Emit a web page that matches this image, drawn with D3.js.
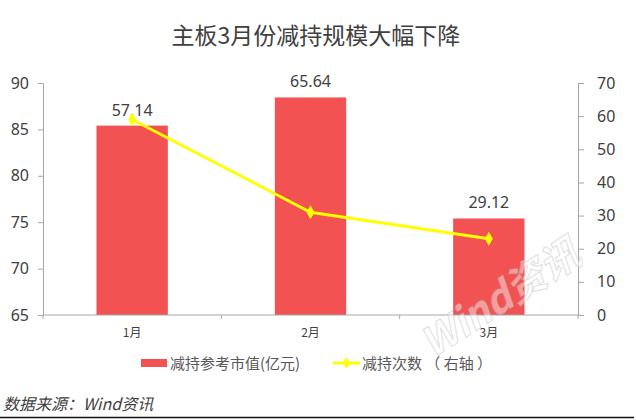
<!DOCTYPE html>
<html>
<head>
<meta charset="utf-8">
<script src="https://cdn.jsdelivr.net/npm/d3@7"></script>
<style>
  body { margin: 0; background: #fff; }
  text { font-family: "Noto Sans CJK SC", "Noto Sans", sans-serif; }
</style>
</head>
<body>
<script>
// Data
const months = ["1月", "2月", "3月"];
const marketValue = [57.14, 65.64, 29.12];   // 减持参考市值(亿元)
const reduceCount = [59, 31, 23];             // 减持次数（右轴）
const leftTicks = [65, 70, 75, 80, 85, 90];
const rightTicks = [0, 10, 20, 30, 40, 50, 60, 70];

const width = 636, height = 420;
const plotLeft = 43, plotRight = 578, plotTop = 83, plotBottom = 315;

const svg = d3.select("body").append("svg")
    .attr("width", width)
    .attr("height", height);

// Scales
const x = d3.scaleBand().domain(months).range([plotLeft, plotRight]).padding(0);
const yLeft = d3.scaleLinear().domain([65, 90]).range([plotBottom, plotTop]);
const yRight = d3.scaleLinear().domain([0, 70]).range([plotBottom, plotTop]);
const barW = x.bandwidth() * 0.4;
const cx = m => x(m) + x.bandwidth() / 2;

// Title
svg.append("text")
    .attr("x", 316).attr("y", 44)
    .attr("text-anchor", "middle")
    .attr("font-size", 23)
    .attr("fill", "#404040")
    .text("主板3月份减持规模大幅下降");

// Axes
const axisColor = "#a6a6a6";
const styleAxis = g => {
  g.select(".domain").attr("stroke", axisColor);
  g.selectAll(".tick line").attr("stroke", axisColor);
  g.selectAll(".tick text").attr("fill", "#404040")
      .style("font-family", "'Noto Sans', 'DejaVu Sans', sans-serif");
};

svg.append("g")
    .attr("transform", `translate(${plotLeft},0)`)
    .call(d3.axisLeft(yLeft).tickValues(leftTicks).tickSize(5).tickPadding(9).tickSizeOuter(0))
    .attr("font-size", 16)
    .call(styleAxis);

svg.append("g")
    .attr("transform", `translate(${plotRight},0)`)
    .call(d3.axisRight(yRight).tickValues(rightTicks).tickSize(6).tickPadding(13).tickSizeOuter(0))
    .attr("font-size", 16)
    .call(styleAxis);

// Bars
svg.selectAll("rect.bar")
    .data(marketValue)
    .enter().append("rect")
    .attr("class", "bar")
    .attr("x", (d, i) => cx(months[i]) - barW / 2)
    .attr("y", d => yRight(d))
    .attr("width", barW)
    .attr("height", d => plotBottom - yRight(d))
    .attr("fill", "#f25252");

// Bottom axis with ticks between categories
const xb = svg.append("g").attr("transform", `translate(0,${plotBottom})`);
xb.append("line").attr("x1", plotLeft).attr("x2", plotRight).attr("stroke", axisColor);
xb.selectAll("line.tk")
    .data(months.map(m => x(m)).concat([plotRight]))
    .enter().append("line")
    .attr("class", "tk")
    .attr("x1", d => d).attr("x2", d => d)
    .attr("y1", 0).attr("y2", 4)
    .attr("stroke", axisColor);
xb.selectAll("text")
    .data(months)
    .enter().append("text")
    .attr("x", d => cx(d))
    .attr("y", 22)
    .attr("text-anchor", "middle")
    .attr("font-size", 12)
    .attr("fill", "#404040")
    .text(d => d);

// Bar labels
svg.selectAll("text.lbl")
    .data(marketValue)
    .enter().append("text")
    .attr("class", "lbl")
    .attr("x", (d, i) => cx(months[i]))
    .attr("y", d => yRight(d) - 10)
    .attr("text-anchor", "middle")
    .attr("font-size", 16)
    .attr("fill", "#404040")
    .style("font-family", "'Noto Sans', 'DejaVu Sans', sans-serif")
    .text(d => d.toFixed(2));

// Line series on right axis
const lineColor = "#ffff00";
const line = d3.line()
    .x((d, i) => cx(months[i]))
    .y(d => yRight(d));

svg.append("path")
    .datum(reduceCount)
    .attr("d", line)
    .attr("fill", "none")
    .attr("stroke", lineColor)
    .attr("stroke-width", 3);

const diamond = d3.symbol().type(d3.symbolDiamond).size(55);
svg.selectAll("path.pt")
    .data(reduceCount)
    .enter().append("path")
    .attr("class", "pt")
    .attr("d", diamond)
    .attr("transform", (d, i) => `translate(${cx(months[i])},${yRight(d)})`)
    .attr("fill", lineColor);

// Watermark
svg.append("text")
    .attr("transform", "translate(508,310) rotate(-33)")
    .attr("text-anchor", "middle")
    .attr("font-size", 40)
    .attr("font-weight", "bold")
    .attr("font-style", "italic")
    .attr("fill", "rgba(255,255,255,0.45)")
    .attr("stroke", "rgba(170,170,170,0.35)")
    .attr("stroke-width", 1.2)
    .text("Wind资讯");

// Legend
const lg = svg.append("g").attr("transform", "translate(0,363)");
lg.append("rect")
    .attr("x", 141).attr("y", -4)
    .attr("width", 26).attr("height", 8)
    .attr("fill", "#f25252");
lg.append("text")
    .attr("x", 170).attr("y", 5.5)
    .attr("font-size", 15)
    .attr("fill", "#595959")
    .text("减持参考市值(亿元)");
lg.append("line")
    .attr("x1", 333).attr("x2", 360)
    .attr("stroke", lineColor).attr("stroke-width", 3);
lg.append("path")
    .attr("d", d3.symbol().type(d3.symbolDiamond).size(40))
    .attr("transform", "translate(346.5,0)")
    .attr("fill", lineColor);
lg.append("text")
    .attr("x", 362).attr("y", 5.5)
    .attr("font-size", 15)
    .attr("fill", "#595959")
    .attr("xml:space", "preserve")
    .style("white-space", "pre")
    .text("减持次数 （ 右轴 ）");

// Source note and bottom rule
svg.append("text")
    .attr("x", 3).attr("y", 410)
    .attr("font-size", 16)
    .attr("font-style", "italic")
    .attr("fill", "#404040")
    .text("数据来源：Wind资讯");

svg.append("line")
    .attr("x1", 0).attr("x2", 634)
    .attr("y1", 417.5).attr("y2", 417.5)
    .attr("stroke", "#111")
    .attr("stroke-width", 1.5);
</script>
</body>
</html>
